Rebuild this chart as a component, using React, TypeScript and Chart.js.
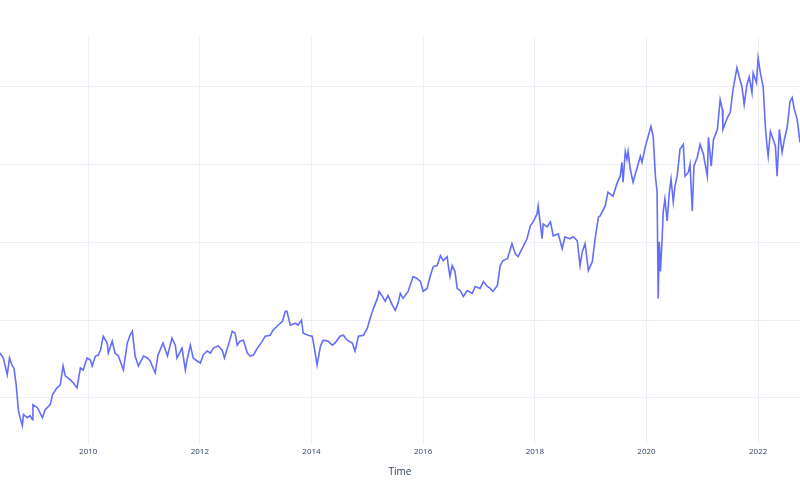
import { useEffect, useRef } from "react";
import { Chart, registerables } from "chart.js";

Chart.register(...registerables);

// time in decimal years
const times = [
  2008.42, 2008.48, 2008.55, 2008.59, 2008.64, 2008.67, 2008.71, 2008.75, 2008.78, 2008.82,
  2008.84, 2008.91, 2008.96, 2009.0, 2009.01, 2009.09, 2009.18, 2009.23, 2009.32, 2009.36,
  2009.44, 2009.5, 2009.55, 2009.59, 2009.68, 2009.73, 2009.8, 2009.86, 2009.91, 2009.98,
  2010.04, 2010.07, 2010.13, 2010.18, 2010.22, 2010.27, 2010.34, 2010.36, 2010.43, 2010.48,
  2010.54, 2010.63, 2010.7, 2010.75, 2010.79, 2010.84, 2010.9, 2010.99, 2011.06, 2011.11,
  2011.2, 2011.25, 2011.34, 2011.42, 2011.5, 2011.56, 2011.59, 2011.68, 2011.74, 2011.77,
  2011.83, 2011.88, 2011.95,
  2012.01, 2012.06, 2012.13, 2012.19, 2012.24, 2012.33, 2012.4, 2012.44, 2012.51, 2012.58,
  2012.63, 2012.67, 2012.72, 2012.78, 2012.85, 2012.9, 2012.96, 2013.03, 2013.12, 2013.17,
  2013.26, 2013.31, 2013.4, 2013.48, 2013.53, 2013.56, 2013.62, 2013.71, 2013.76, 2013.82,
  2013.85, 2013.94, 2014.01, 2014.03, 2014.1, 2014.16, 2014.21, 2014.3, 2014.37, 2014.42,
  2014.51, 2014.57, 2014.64, 2014.73, 2014.78, 2014.84, 2014.93, 2015.0, 2015.05, 2015.11,
  2015.18, 2015.21, 2015.27, 2015.32, 2015.37, 2015.45, 2015.5, 2015.55,
  2015.59, 2015.64, 2015.73, 2015.82, 2015.89, 2015.95, 2016.0, 2016.07, 2016.13, 2016.18,
  2016.25, 2016.31, 2016.36, 2016.43, 2016.45, 2016.48, 2016.52, 2016.57, 2016.61, 2016.66,
  2016.72, 2016.79, 2016.88, 2016.93, 2017.02, 2017.08, 2017.15, 2017.2, 2017.25, 2017.33,
  2017.38, 2017.43, 2017.51, 2017.59, 2017.65, 2017.7, 2017.79, 2017.86, 2017.92, 2017.97,
  2018.04, 2018.06, 2018.13, 2018.15, 2018.22, 2018.28, 2018.33, 2018.42, 2018.49, 2018.54,
  2018.63, 2018.69, 2018.76, 2018.81, 2018.85, 2018.9, 2018.96, 2019.03, 2019.08, 2019.14,
  2019.17, 2019.26, 2019.31, 2019.4, 2019.48, 2019.53, 2019.56, 2019.58, 2019.62, 2019.65,
  2019.67, 2019.71, 2019.76, 2019.8, 2019.85, 2019.89, 2019.92, 2019.98, 2020.03, 2020.08,
  2020.12, 2020.16, 2020.19, 2020.21, 2020.23, 2020.25, 2020.28, 2020.3, 2020.33, 2020.37,
  2020.41, 2020.44, 2020.48, 2020.51, 2020.55, 2020.6, 2020.66, 2020.69, 2020.75, 2020.78,
  2020.82, 2020.85, 2020.91, 2020.96, 2021.02, 2021.09, 2021.11, 2021.16, 2021.2, 2021.27,
  2021.32, 2021.36, 2021.37, 2021.45, 2021.5, 2021.55, 2021.62, 2021.66, 2021.71, 2021.75,
  2021.8, 2021.84, 2021.89, 2021.91, 2021.97, 2022.0, 2022.04, 2022.09, 2022.11, 2022.13,
  2022.16, 2022.18, 2022.22, 2022.27, 2022.31, 2022.34, 2022.38, 2022.43, 2022.47, 2022.52,
  2022.57, 2022.61, 2022.65, 2022.7, 2022.75,
];

const values = [
  157.5, 151.1, 129.4, 151.1, 140.9, 138.3, 116.6, 83.4, 74.4, 64.2,
  78.3, 74.4, 77.0, 71.9, 91.1, 87.2, 74.4, 84.7, 91.1, 103.8,
  112.8, 116.6, 140.9, 128.1, 123.0, 119.2, 112.8, 138.3, 135.8, 151.1,
  148.6, 140.9, 153.7, 155.0, 161.3, 179.2, 170.3, 157.5, 172.8, 157.5,
  153.7, 135.8, 170.3, 180.5, 185.6, 153.7, 140.9, 153.7, 151.1, 147.3,
  131.9, 155.0, 170.3, 153.7, 176.7, 167.7, 151.1, 163.9, 135.8, 148.6,
  167.7, 151.1, 147.3,
  144.7, 155.0, 160.1, 157.5, 163.9, 166.5, 161.3, 151.1, 167.7, 185.6,
  183.1, 167.7, 172.8, 174.1, 157.5, 153.7, 155.0, 163.9, 172.8, 179.2,
  180.5, 186.9, 193.3, 198.4, 211.2, 211.2, 193.3, 195.8, 193.3, 199.7,
  183.1, 180.5, 179.2, 172.8, 142.2, 166.5, 174.1, 172.8, 167.7, 170.3,
  179.2, 180.5, 174.1, 170.3, 160.1, 179.2, 180.5, 189.5, 202.2, 215.0,
  227.8, 236.7, 230.4, 224.0, 231.6, 218.9, 212.5, 221.4,
  234.2, 227.8, 236.7, 255.9, 253.4, 249.5, 236.7, 240.6, 257.2, 268.7,
  270.0, 282.8, 276.4, 281.5, 270.0, 255.9, 270.0, 262.3, 240.6, 238.0,
  230.4, 238.0, 234.2, 243.1, 240.6, 249.5, 243.1, 240.6, 236.7, 244.4,
  270.0, 276.4, 278.9, 298.1, 285.3, 281.5, 294.3, 304.5, 321.1, 326.2,
  336.4, 346.7, 304.5, 323.6, 319.8, 326.2, 308.3, 310.9, 291.7, 307.0,
  304.5, 307.0, 301.9, 270.0, 287.9, 298.1, 263.6, 275.1, 304.5, 332.6,
  333.9, 346.7, 364.5, 359.4, 377.3, 385.0, 402.9, 377.3, 416.9, 406.7,
  416.9, 393.9, 377.3, 387.5, 400.3, 410.6, 402.9, 423.3, 436.1, 448.9,
  436.1, 385.0, 364.5, 227.8, 300.6, 262.3, 304.5, 339.0, 355.6, 327.5,
  364.5, 381.2, 351.8, 372.2, 385.0, 419.5, 425.9, 385.0, 390.1, 400.3,
  340.3, 397.8, 409.3, 425.9, 413.1, 385.0, 434.8, 397.8, 432.3, 445.1,
  483.4, 470.6, 445.1, 460.4, 466.8, 496.2, 524.3, 512.8, 500.0, 477.0,
  502.6, 512.8, 492.3, 517.9, 505.1, 537.1, 517.9, 500.0, 474.5, 447.6,
  423.3, 410.6, 442.5, 432.3, 423.3, 385.0, 445.1, 415.7, 432.3, 447.6,
  480.8, 486.0, 470.6, 457.8, 428.4,
];

const yearTicks = [2010, 2012, 2014, 2016, 2018, 2020, 2022];
const valueTicks = [100, 200, 300, 400, 500];

const GRID = "#ebf0f8";
const TEXT = "#2a3f5f";

export default function App() {
  const canvasRef = useRef<HTMLCanvasElement>(null);
  const chartRef = useRef<Chart | null>(null);

  useEffect(() => {
    if (!canvasRef.current) return;
    chartRef.current?.destroy();
    const points = times.map((t, i) => ({ x: t, y: values[i] }));
    chartRef.current = new Chart(canvasRef.current, {
      type: "line",
      data: {
        datasets: [
          {
            data: points,
            borderColor: "#636efa",
            borderWidth: 1.6,
            pointRadius: 0,
            tension: 0,
          },
        ],
      },
      options: {
        animation: false,
        responsive: true,
        maintainAspectRatio: false,
        layout: { padding: { top: 37, left: 0, right: 0, bottom: 18 } },
        scales: {
          x: {
            type: "linear",
            min: 2008.42,
            max: 2022.75,
            afterBuildTicks: (s) => {
              s.ticks = yearTicks.map((v) => ({ value: v }));
            },
            grid: { color: GRID, drawTicks: false },
            border: { display: false },
            ticks: {
              color: TEXT,
              font: { family: "Open Sans", size: 8 },
              padding: 3,
              callback: (v) => String(v),
            },
            title: {
              display: true,
              text: "Time",
              color: TEXT,
              font: { family: "Open Sans", size: 10 },
              padding: { top: 6, bottom: 4 },
            },
          },
          y: {
            min: 40,
            max: 564,
            afterBuildTicks: (s) => {
              s.ticks = valueTicks.map((v) => ({ value: v }));
            },
            grid: { color: GRID, drawTicks: false },
            border: { display: false },
            ticks: { display: false },
          },
        },
        plugins: { legend: { display: false }, tooltip: { enabled: false } },
      },
    });
    return () => chartRef.current?.destroy();
  }, []);

  return (
    <div style={{ position: "fixed", left: 0, top: 0, width: 800, height: 500, background: "#fff" }}>
      <canvas ref={canvasRef} />
    </div>
  );
}
